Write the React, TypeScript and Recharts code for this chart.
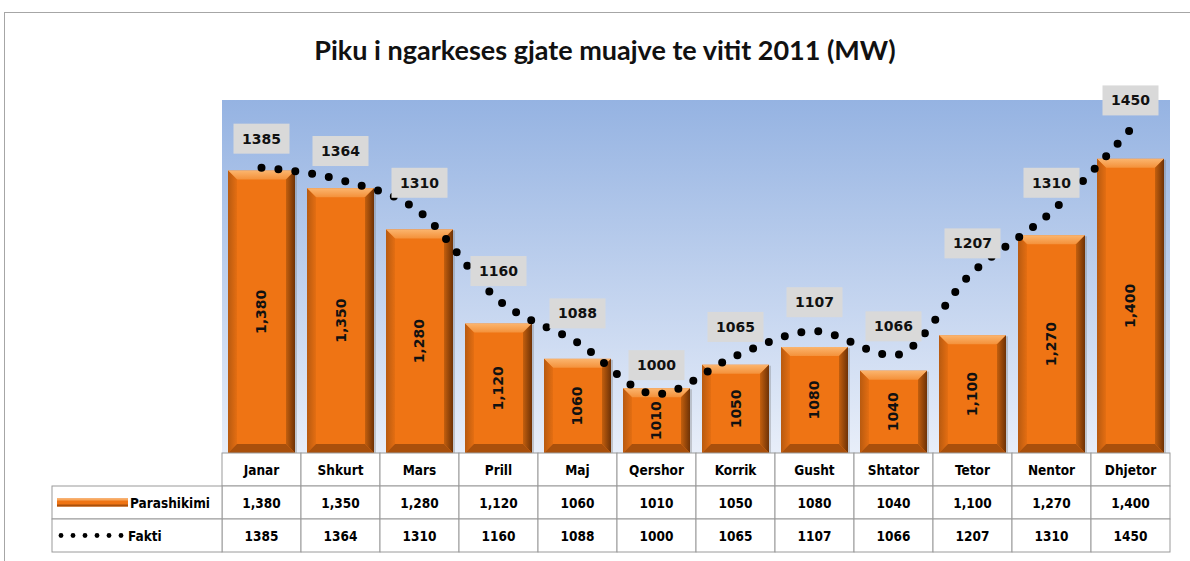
import React from "react";
import { ComposedChart, Bar, Line, XAxis, YAxis, CartesianGrid, LabelList } from "recharts";

const months = ["Janar", "Shkurt", "Mars", "Prill", "Maj", "Qershor", "Korrik", "Gusht", "Shtator", "Tetor", "Nentor", "Dhjetor"];
const parashikimi = [1380, 1350, 1280, 1120, 1060, 1010, 1050, 1080, 1040, 1100, 1270, 1400];
const parashikimiText = ["1,380", "1,350", "1,280", "1,120", "1060", "1010", "1050", "1080", "1040", "1,100", "1,270", "1,400"];
const fakti = [1385, 1364, 1310, 1160, 1088, 1000, 1065, 1107, 1066, 1207, 1310, 1450];
const faktiText = ["1385", "1364", "1310", "1160", "1088", "1000", "1065", "1107", "1066", "1207", "1310", "1450"];

const data = months.map((m, i) => ({
  month: m,
  parashikimi: parashikimi[i],
  label: parashikimiText[i],
  fakti: fakti[i],
  faktiLabel: faktiText[i],
}));

const W = 1190;
const H = 561;
const M = { top: 100, right: 20, bottom: 8, left: 222 };
const PLOT_W = W - M.left - M.right;
const COL_W = PLOT_W / months.length;
const ROW_H = 33;
const TABLE_FONT = "'DejaVu Sans Condensed', 'DejaVu Sans', sans-serif";
const GRID = "#9a9a9a";

function BevelBar(props: any) {
  const { x, y, width: w, height: h } = props;
  if (!w || !h || h <= 0) return null;
  const b = Math.min(9, h / 3);
  return (
    <g>
      <rect x={x + 2} y={y + 1} width={w} height={h} fill="#7a7a7a" opacity={0.35} />
      <rect x={x} y={y} width={w} height={h} fill="#ef7414" />
      <polygon points={`${x},${y} ${x + w},${y} ${x + w - b},${y + b} ${x + b},${y + b}`} fill="url(#bevTop)" />
      <polygon points={`${x},${y} ${x + b},${y + b} ${x + b},${y + h - b} ${x},${y + h}`} fill="url(#bevLeft)" />
      <polygon points={`${x + w},${y} ${x + w - b},${y + b} ${x + w - b},${y + h - b} ${x + w},${y + h}`} fill="url(#bevRight)" />
      <polygon points={`${x},${y + h} ${x + b},${y + h - b} ${x + w - b},${y + h - b} ${x + w},${y + h}`} fill="#a9500c" />
    </g>
  );
}

function BarValue(props: any) {
  const { x, y, width, height, value } = props;
  const cx = x + width / 2;
  const cy = y + height / 2;
  return (
    <text
      x={cx}
      y={cy}
      transform={`rotate(-90 ${cx} ${cy})`}
      textAnchor="middle"
      dominantBaseline="central"
      fontFamily="'DejaVu Sans', sans-serif"
      fontWeight={600}
      fontSize={14}
      fill="#111"
    >
      {value}
    </text>
  );
}

function FaktiLabel(props: any) {
  const { x, y, value } = props;
  const cy = y - 29;
  return (
    <g>
      <rect x={x - 28} y={cy - 15} width={56} height={30} fill="#d9d9d9" />
      <text
        x={x}
        y={cy}
        textAnchor="middle"
        dominantBaseline="central"
        fontFamily="'DejaVu Sans', sans-serif"
        fontWeight={600}
        fontSize={14}
        fill="#111"
      >
        {value}
      </text>
    </g>
  );
}

function TableTick(props: any) {
  const { x, y, index } = props;
  const left = x - COL_W / 2;
  const txt = { fontFamily: TABLE_FONT, fontWeight: 700, fontSize: 13.5, fill: "#000", textAnchor: "middle" as const, dominantBaseline: "central" as const };
  const legendX = M.left - 170;
  return (
    <g>
      {[0, 1, 2].map((r) => (
        <rect key={r} x={left} y={y + r * ROW_H} width={COL_W} height={ROW_H} fill="#fff" stroke={GRID} strokeWidth={1} />
      ))}
      <text x={x} y={y + ROW_H / 2} {...txt}>{months[index]}</text>
      <text x={x} y={y + ROW_H * 1.5} {...txt}>{parashikimiText[index]}</text>
      <text x={x} y={y + ROW_H * 2.5} {...txt}>{faktiText[index]}</text>
      {index === 0 && (
        <g>
          <rect x={legendX} y={y + ROW_H} width={170} height={ROW_H} fill="#fff" stroke={GRID} />
          <rect x={legendX} y={y + ROW_H * 2} width={170} height={ROW_H} fill="#fff" stroke={GRID} />
          <rect x={legendX + 5} y={y + ROW_H * 1.5 - 4} width={71} height={8} fill="#ef7414" />
          <rect x={legendX + 5} y={y + ROW_H * 1.5 - 4} width={71} height={2} fill="#f8a85e" />
          <rect x={legendX + 5} y={y + ROW_H * 1.5 + 2} width={71} height={2} fill="#a9500c" />
          <text x={legendX + 78} y={y + ROW_H * 1.5} {...txt} textAnchor="start">Parashikimi</text>
          {[0, 1, 2, 3, 4, 5].map((d) => (
            <circle key={d} cx={legendX + 9 + d * 12} cy={y + ROW_H * 2.5} r={2.4} fill="#000" />
          ))}
          <text x={legendX + 76} y={y + ROW_H * 2.5} {...txt} textAnchor="start">Fakti</text>
        </g>
      )}
    </g>
  );
}

export default function App() {
  return (
    <div style={{ position: "relative", width: W, height: H, background: "#fff", overflow: "hidden" }}>
      <style>{"body{margin:0}"}</style>
      <div style={{ position: "absolute", left: 4, top: 12, width: 1300, height: 700, border: "1px solid #a6a6a6" }} />
      <div
        style={{
          position: "absolute",
          left: 0,
          width: 1210,
          top: 33,
          textAlign: "center",
          fontFamily: "Lato, 'Open Sans', sans-serif",
          fontWeight: 700,
          fontSize: 27,
          color: "#111",
        }}
      >
        Piku i ngarkeses gjate muajve te vitit 2011 (MW)
      </div>
      <ComposedChart width={W} height={H} data={data} margin={M} style={{ position: "absolute", left: 0, top: 0 }}>
        <defs>
          <linearGradient id="bg" x1="0" y1="0" x2="0" y2="1">
            <stop offset="0%" stopColor="#95b3e2" />
            <stop offset="100%" stopColor="#e8eef9" />
          </linearGradient>
          <linearGradient id="bevTop" x1="0" y1="0" x2="0" y2="1">
            <stop offset="0%" stopColor="#fbb56e" />
            <stop offset="100%" stopColor="#f4913a" />
          </linearGradient>
          <linearGradient id="bevLeft" x1="0" y1="0" x2="1" y2="0">
            <stop offset="0%" stopColor="#b85a10" />
            <stop offset="100%" stopColor="#e46e12" />
          </linearGradient>
          <linearGradient id="bevRight" x1="0" y1="0" x2="1" y2="0">
            <stop offset="0%" stopColor="#c35f0e" />
            <stop offset="100%" stopColor="#6e3206" />
          </linearGradient>
        </defs>
        <CartesianGrid horizontal={false} vertical={false} fill="url(#bg)" />
        <XAxis
          dataKey="month"
          height={100}
          axisLine={false}
          tickLine={false}
          tickSize={0}
          tickMargin={0}
          interval={0}
          tick={(p: any) => <TableTick {...p} />}
        />
        <YAxis hide domain={[900, 1500]} />
        <Bar dataKey="parashikimi" barSize={67} isAnimationActive={false} shape={(p: any) => <BevelBar {...p} />}>
          <LabelList dataKey="label" content={(p: any) => <BarValue {...p} />} />
        </Bar>
        <Line
          type="monotone"
          dataKey="fakti"
          stroke="#000"
          strokeWidth={8}
          strokeDasharray="0 17"
          strokeLinecap="round"
          dot={false}
          activeDot={false}
          isAnimationActive={false}
        >
          <LabelList dataKey="faktiLabel" content={(p: any) => <FaktiLabel {...p} />} />
        </Line>
      </ComposedChart>
    </div>
  );
}
